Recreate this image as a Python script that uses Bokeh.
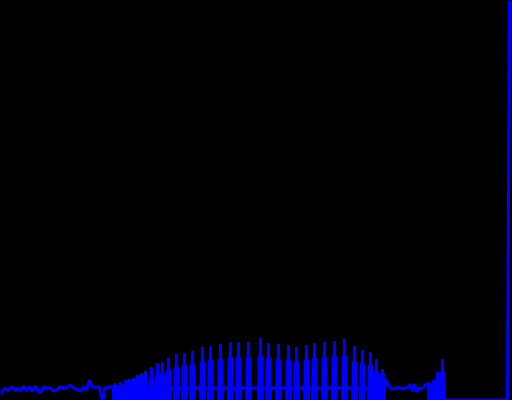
from bokeh.plotting import figure
from bokeh.embed import file_html
from bokeh.resources import INLINE
from bokeh.models import Range1d

# Quiet segment before the bursts (sample position, amplitude)
lead_x = [0, 2, 4, 7, 10, 12, 15, 18, 20, 23, 26, 29, 32, 35, 38, 40, 43, 47, 50, 53, 56, 59,
          65, 70, 75, 80, 83, 86, 89, 92, 95, 99, 101, 103, 104, 110, 113]
lead_y = [5, 10, 12, 10, 12, 13, 10, 12, 9, 14, 10, 13, 9, 14, 9, 7, 13, 12, 12, 9, 10, 13,
          12, 15, 11, 9, 13, 10, 20, 13, 13, 13, 2, 2, 12, 13, 14]

# Bursts: centre position, peak amplitude, shoulder amplitude
burst_x = [115, 120, 125, 129, 133, 137, 141, 145, 151, 157, 162, 168, 176, 184, 192, 202, 210,
           220, 230, 238, 248, 260, 268, 278, 288, 296, 306, 314, 324, 334, 344, 354, 362, 370,
           376, 382]
burst_peak = [17, 18, 20, 21, 22, 25, 27, 29, 33, 37, 38, 42, 46, 47, 49, 53, 54,
              56, 58, 58, 58, 62, 57, 56, 55, 53, 55, 57, 58, 59, 61, 54, 50, 48,
              41, 31]
burst_shoulder = [14, 15, 16, 17, 18, 19, 20, 21, 23, 25, 27, 30, 33, 35, 36, 38, 40,
                  41, 43, 43, 43, 45, 42, 41, 40, 39, 40, 42, 43, 44, 44, 39, 37, 35,
                  28, 27]
baseline = 12

# Quiet segment after the bursts
mid_x = [386, 388, 390, 393, 396, 399, 402, 405, 408, 410, 412, 414, 416, 418, 421, 424, 426, 428]
mid_y = [20, 14, 12, 11, 12, 13, 11, 12, 13, 16, 9, 16, 8, 12, 11, 14, 16, 17]

# Late small bursts
late_x = [430, 433, 437, 442]
late_peak = [17, 20, 28, 41]
late_shoulder = [14, 15, 20, 28]

# Silence and final surge
tail_x = [445, 507, 510]
tail_y = [0, 0, 600]


def burst(cx, pk, sh, with_end=True):
    xs = [cx - 2.2, cx - 1.7, cx - 1.2, cx - 0.5, cx, cx + 0.5, cx + 1.2, cx + 1.7]
    ys = [baseline, 0, sh, 0, pk, 0, sh, 0]
    if with_end:
        xs.append(cx + 2.2)
        ys.append(baseline)
    return xs, ys


xs, ys = list(lead_x), list(lead_y)
for cx, pk, sh in zip(burst_x, burst_peak, burst_shoulder):
    bx, by = burst(cx, pk, sh)
    xs += bx
    ys += by
xs += mid_x
ys += mid_y
for i, (cx, pk, sh) in enumerate(zip(late_x, late_peak, late_shoulder)):
    bx, by = burst(cx, pk, sh, with_end=(i < len(late_x) - 1))
    xs += bx
    ys += by
xs += tail_x
ys += tail_y

p = figure(width=512, height=400, output_backend="svg", toolbar_location=None,
           x_range=Range1d(0, 512), y_range=Range1d(-0.5, 400), min_border=0)
p.background_fill_color = "black"
p.border_fill_color = "black"
p.outline_line_color = None
p.axis.visible = False
p.grid.visible = False
p.styles = {"background-color": "black"}
p.line(xs, ys, line_color="#0000ff", line_width=3)

html = file_html(p, INLINE)
html = html.replace("<body>", '<body style="margin:0;background:black">', 1)
html = html.replace("<head>", '<head><style>html,body{background:#000;margin:0}</style>', 1)
open("out.html", "w").write(html)
